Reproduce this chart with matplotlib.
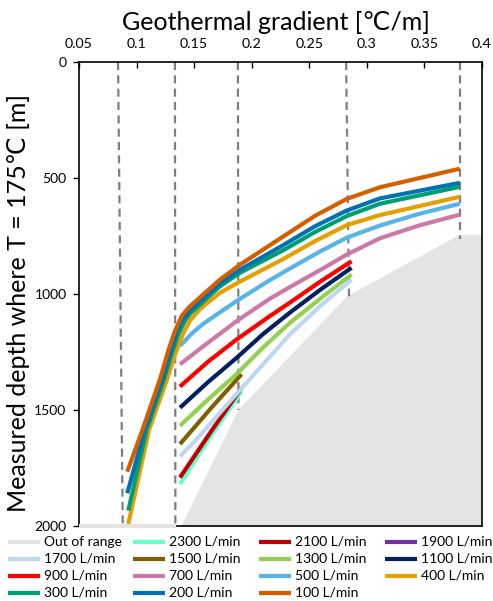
import matplotlib
matplotlib.use("Agg")
import matplotlib.pyplot as plt
from matplotlib.lines import Line2D

plt.rcParams['font.family'] = ['Lato', 'DejaVu Sans']

# ---------------- data ----------------
x_ticks = [0.05, 0.1, 0.15, 0.2, 0.25, 0.3, 0.35, 0.4]
x_tick_labels = ["0.05", "0.1", "0.15", "0.2", "0.25", "0.3", "0.35", "0.4"]
y_ticks = [0, 500, 1000, 1500, 2000]

# reference (dashed) lines: x at top, x at bottom end, depth of bottom end
ref_x_top = [0.0839, 0.1333, 0.1880, 0.2820, 0.3810]
ref_x_bot = [0.0880, 0.1337, 0.1885, 0.2845, 0.3810]
ref_depth_end = [2000, 2000, 1500, 1010, 765]

# out-of-range region boundary
oor_x = [0.05, 0.1340, 0.1390, 0.1885, 0.2830, 0.3807, 0.4, 0.4]
oor_y = [2000, 2000, 2000, 1500, 1010, 745, 745, 2000]

labels = ["2300 L/min", "2100 L/min", "1900 L/min", "1700 L/min", "1500 L/min",
          "1300 L/min", "1100 L/min", "900 L/min", "700 L/min", "500 L/min",
          "400 L/min", "300 L/min", "200 L/min", "100 L/min"]
colors = ["#66FFCC", "#C00000", "#7030A0", "#BDD7EE", "#7F6000",
          "#92D050", "#002060", "#FF0000", "#CC79A7", "#56B4E9",
          "#E69F00", "#009E73", "#0072B2", "#D55E00"]

g_2300 = [0.1377, 0.1650, 0.1912]
d_2300 = [1819, 1610, 1419]
g_2100 = [0.1377, 0.1650, 0.1912]
d_2100 = [1791, 1590, 1404]
g_1900 = []
d_1900 = []
g_1700 = [0.1377, 0.1522, 0.1869, 0.2332, 0.2600, 0.2867]
d_1700 = [1700, 1626, 1430, 1174, 1050, 938]
g_1500 = [0.1377, 0.1650, 0.1912]
d_1500 = [1647, 1490, 1346]
g_1300 = [0.1377, 0.1620, 0.1869, 0.2100, 0.2332, 0.2600, 0.2867]
d_1300 = [1568, 1455, 1345, 1230, 1124, 1018, 916]
g_1100 = [0.1377, 0.1620, 0.1869, 0.2100, 0.2332, 0.2600, 0.2867]
d_1100 = [1490, 1380, 1275, 1172, 1080, 980, 887]
g_900 = [0.1377, 0.1620, 0.1869, 0.2158, 0.2332, 0.2600, 0.2867]
d_900 = [1399, 1292, 1196, 1095, 1037, 945, 859]
g_700 = [0.1377, 0.1580, 0.1869, 0.2158, 0.2332, 0.2600, 0.2826, 0.3113, 0.3450, 0.3807]
d_700 = [1303, 1225, 1117, 1020, 970, 895, 830, 760, 705, 658]
g_500 = [0.1377, 0.1480, 0.1580, 0.1869, 0.2158, 0.2332, 0.2600, 0.2826, 0.3113, 0.3450, 0.3807]
d_500 = [1224, 1170, 1128, 1030, 940, 890, 815, 757, 705, 655, 611]
g_400 = [0.0928, 0.1110, 0.1265, 0.1335, 0.1400, 0.1464, 0.1550, 0.1724, 0.1900, 0.2271, 0.2550, 0.2826, 0.3113, 0.3807]
d_400 = [1991, 1583, 1368, 1260, 1175, 1115, 1065, 995, 946, 850, 772, 703, 660, 581]
g_300 = [0.0928, 0.1088, 0.1238, 0.1310, 0.1365, 0.1420, 0.1464, 0.1724, 0.1900, 0.2271, 0.2550, 0.2826, 0.3113, 0.3807]
d_300 = [1934, 1583, 1368, 1250, 1170, 1115, 1085, 967, 908, 812, 733, 664, 611, 538]
g_200 = [0.0919, 0.1073, 0.1223, 0.1295, 0.1350, 0.1405, 0.1464, 0.1724, 0.1900, 0.2271, 0.2550, 0.2826, 0.3113, 0.3807]
d_200 = [1859, 1583, 1368, 1250, 1160, 1105, 1070, 955, 895, 790, 708, 640, 588, 521]
g_100 = [0.0919, 0.1053, 0.1203, 0.1275, 0.1333, 0.1395, 0.1464, 0.1724, 0.1900, 0.2271, 0.2550, 0.2826, 0.3113, 0.3807]
d_100 = [1766, 1583, 1368, 1245, 1160, 1092, 1053, 938, 873, 753, 663, 590, 540, 460]

series_g = [g_2300, g_2100, g_1900, g_1700, g_1500, g_1300, g_1100, g_900,
            g_700, g_500, g_400, g_300, g_200, g_100]
series_d = [d_2300, d_2100, d_1900, d_1700, d_1500, d_1300, d_1100, d_900,
            d_700, d_500, d_400, d_300, d_200, d_100]

oor_label = "Out of range"
oor_color = "#E4E4E4"

# ---------------- figure ----------------
W, H = 493, 601
fig = plt.figure(figsize=(W / 100, H / 100), dpi=100)
ax = fig.add_axes([79 / W, 1 - 526 / H, (482 - 79) / W, (526 - 62) / H])

ax.fill(oor_x, oor_y, color=oor_color, lw=0, zorder=1)
ax.plot([0.05, 0.1340], [2000, 2000], color=oor_color, lw=3, zorder=3, clip_on=False,
        solid_capstyle='butt')

for xt, xb, de in zip(ref_x_top, ref_x_bot, ref_depth_end):
    ax.plot([xt, xb], [0, de], color="#7F7F7F", lw=1.6,
            linestyle=(0, (3.6, 2.4)), zorder=2)

for g, d, c in zip(series_g, series_d, colors):
    if len(g):
        ax.plot(g, d, color=c, lw=3.0, zorder=4, solid_capstyle='butt',
                solid_joinstyle='round')

ax.set_xlim(0.05, 0.4)
ax.set_ylim(2000, 0)
ax.xaxis.tick_top()
ax.set_xticks(x_ticks)
ax.set_xticklabels(x_tick_labels)
ax.set_yticks(y_ticks)
ax.tick_params(axis='x', direction='in', length=4, width=1, pad=9, labelsize=10.3,
               colors='black')
ax.tick_params(axis='y', direction='out', length=4, width=1, pad=5, labelsize=10.0)
for s in ax.spines.values():
    s.set_linewidth(1.2)
    s.set_color('black')

fig.text(276 / W, 1 - 23 / H, "Geothermal gradient [℃/m]", ha='center', va='center',
         fontsize=18)
fig.text(19 / W, 1 - 303 / H, "Measured depth where T = 175℃ [m]", ha='center',
         va='center', rotation=90, fontsize=18)

# ---------------- legend ----------------
leg_labels = [oor_label] + labels
leg_colors = [oor_color] + colors
col_x = [8, 133, 259, 385]
row_y = [541.5, 558.5, 575.5, 592.5]
for i, (lab, c) in enumerate(zip(leg_labels, leg_colors)):
    r, k = divmod(i, 4)
    x0 = col_x[k]
    y0 = row_y[r]
    fig.add_artist(Line2D([x0 / W, (x0 + 32) / W], [1 - y0 / H, 1 - y0 / H],
                          color=c, lw=3.0, transform=fig.transFigure,
                          solid_capstyle='butt'))
    fig.text((x0 + 36) / W, 1 - y0 / H, lab, ha='left', va='center', fontsize=10.0)

fig.savefig("out.png", dpi=100)
